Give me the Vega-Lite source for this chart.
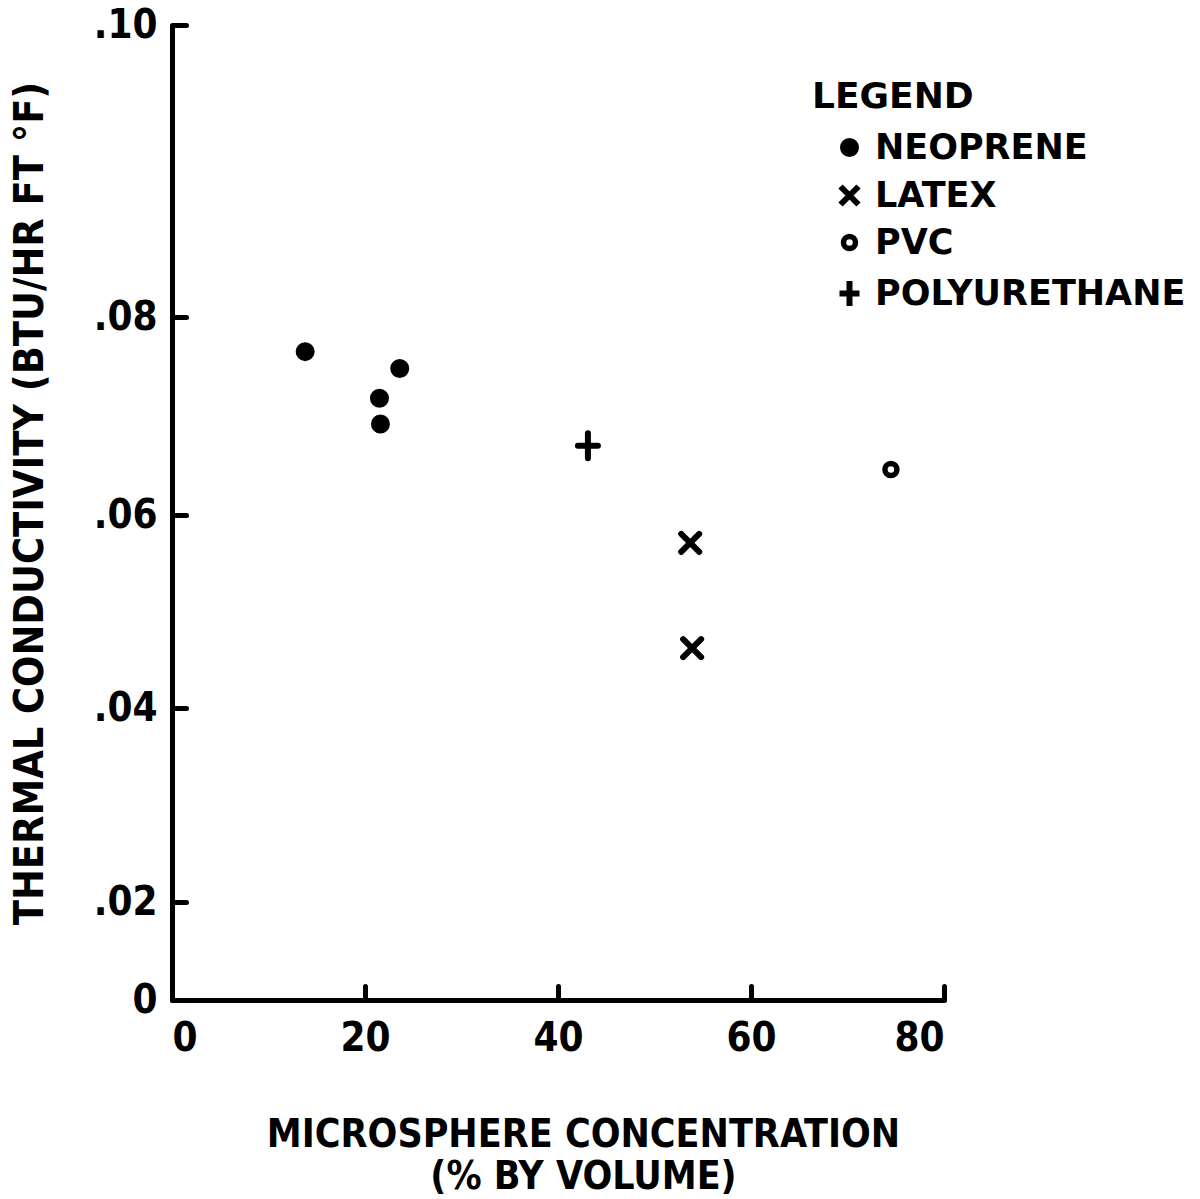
{
  "$schema": "https://vega.github.io/schema/vega-lite/v6.json",
  "autosize": {"type": "none"},
  "padding": {"left": 172, "top": 25, "right": 256, "bottom": 199},
  "width": 772,
  "height": 975,
  "background": "white",
  "config": {
    "view": {"stroke": null},
    "font": "DejaVu Sans Condensed",
    "axis": {"grid": false, "domainColor": "black", "tickColor": "black", "labelColor": "black", "titleColor": "black", "labelFontWeight": "bold", "titleFontWeight": "bold", "labelFont": "DejaVu Sans Condensed", "titleFont": "DejaVu Sans Condensed"},
    "legend": {"labelFont": "DejaVu Sans", "titleFont": "DejaVu Sans"}
  },
  "data": {
    "values": [
      {"material": "NEOPRENE", "conc": 13.8, "k": 0.0765},
      {"material": "NEOPRENE", "conc": 21.5, "k": 0.0718},
      {"material": "NEOPRENE", "conc": 21.6, "k": 0.0692},
      {"material": "NEOPRENE", "conc": 23.6, "k": 0.0748},
      {"material": "POLYURETHANE", "conc": 43.1, "k": 0.0670},
      {"material": "LATEX", "conc": 53.7, "k": 0.0571},
      {"material": "LATEX", "conc": 53.9, "k": 0.0462},
      {"material": "PVC", "conc": 74.5, "k": 0.0646}
    ]
  },
  "mark": {"type": "point", "stroke": "black", "strokeCap": "round", "opacity": 1},
  "encoding": {
    "x": {
      "field": "conc", "type": "quantitative",
      "scale": {"domain": [0, 80], "nice": false, "zero": false},
      "axis": {
        "values": [0, 20, 40, 60, 80],
        "domainWidth": 5, "tickWidth": 5, "tickSize": -14, "tickCap": "round",
        "labelFontSize": 40, "labelPadding": 32, "labelAngle": 0,
        "title": ["MICROSPHERE CONCENTRATION", "(% BY VOLUME)"],
        "titleFontSize": 39, "titleLineHeight": 42, "titleX": 411, "titleY": 115, "titleBaseline": "top", "titleAlign": "center"
      }
    },
    "y": {
      "field": "k", "type": "quantitative",
      "scale": {"domain": [0, 0.02, 0.04, 0.06, 0.08, 0.1], "range": [975, 877, 683, 490, 292, 0], "nice": false, "zero": false},
      "axis": {
        "values": [0, 0.02, 0.04, 0.06, 0.08, 0.1],
        "labelExpr": "datum.value == 0 ? '0' : replace(format(datum.value, '.2f'), '0.', '.')",
        "domainWidth": 5, "tickWidth": 5, "tickSize": -14, "tickCap": "round",
        "labelFontSize": 40, "labelPadding": 29,
        "title": "THERMAL CONDUCTIVITY (BTU/HR FT °F)",
        "titleFontSize": 41, "titleAngle": 270, "titleX": -142, "titleY": 478, "titleBaseline": "middle", "titleAlign": "center"
      }
    },
    "shape": {
      "field": "material", "type": "nominal",
      "scale": {"domain": ["NEOPRENE", "LATEX", "PVC", "POLYURETHANE"], "range": ["circle", "M-0.9,-0.9L0.9,0.9M0.9,-0.9L-0.9,0.9", "circle", "M-0.8,0L0.8,0M0,-1L0,1"]},
      "legend": {
        "title": "LEGEND", "orient": "none", "legendX": 640, "legendY": 55,
        "titleFontSize": 36, "titleFontWeight": "bold", "titleColor": "black", "titlePadding": 14,
        "labelFontSize": 35, "labelFontWeight": "bold", "labelColor": "black", "labelOffset": 8, "labelLimit": 0,
        "symbolOffset": 20, "rowPadding": 8, "padding": 0, "symbolStrokeColor": "black"
      }
    },
    "fill": {
      "field": "material", "type": "nominal",
      "scale": {"domain": ["NEOPRENE", "LATEX", "PVC", "POLYURETHANE"], "range": ["black", "transparent", "transparent", "transparent"]},
      "legend": {"title": "LEGEND"}
    },
    "size": {
      "field": "material", "type": "nominal",
      "scale": {"type": "ordinal", "domain": ["NEOPRENE", "LATEX", "PVC", "POLYURETHANE"], "range": [289, 400, 144, 625]},
      "legend": {"title": "LEGEND"}
    },
    "strokeWidth": {
      "field": "material", "type": "nominal",
      "scale": {"type": "ordinal", "domain": ["NEOPRENE", "LATEX", "PVC", "POLYURETHANE"], "range": [2, 6, 5.5, 6]},
      "legend": {"title": "LEGEND"}
    }
  }
}
